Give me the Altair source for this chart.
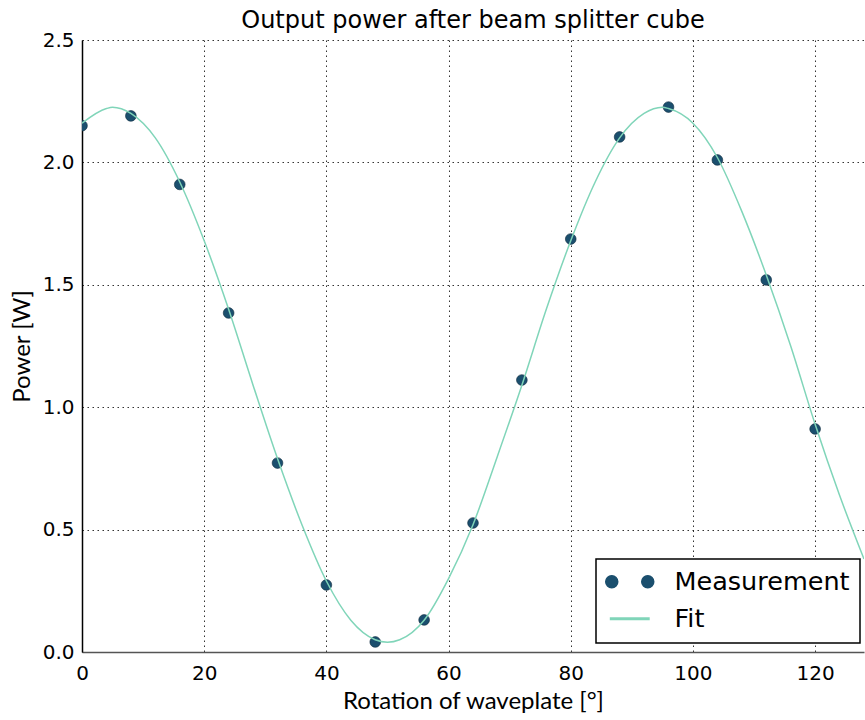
import altair as alt
import pandas as pd

# Measurements
angle = [0, 8, 16, 24, 32, 40, 48, 56, 64, 72, 80, 88, 96, 104, 112, 120]
power = [2.15, 2.19, 1.91, 1.385, 0.772, 0.274, 0.041, 0.131, 0.527, 1.111, 1.687, 2.104, 2.226, 2.010, 1.520, 0.911]

# Fit curve
fit_angle = [0, 4, 5, 8, 12, 16, 20, 24, 28, 32, 36, 40, 44, 48, 50, 52, 56, 60, 64, 68,
             72, 76, 80, 84, 88, 92, 95, 96, 100, 104, 108, 112, 116, 120, 124, 128]
fit_power = [2.16, 2.22, 2.225, 2.20, 2.10, 1.92, 1.68, 1.40, 1.09, 0.79, 0.52, 0.29, 0.13, 0.05, 0.04, 0.05,
             0.13, 0.30, 0.52, 0.80, 1.09, 1.40, 1.68, 1.92, 2.10, 2.20, 2.225, 2.22, 2.16, 2.02,
             1.80, 1.54, 1.25, 0.93, 0.64, 0.38]

x_ticks = [0, 20, 40, 60, 80, 100, 120]
y_ticks = [0.0, 0.5, 1.0, 1.5, 2.0, 2.5]

series_names = ["Measurement", "Fit"]
series_colors = ["#1b4f6e", "#80d5b9"]

meas = pd.DataFrame({"angle": angle, "power": power, "series": "Measurement"})
fit = pd.DataFrame({"angle": fit_angle, "power": fit_power, "series": "Fit"})
legend_rows = pd.DataFrame({"angle": angle[:2], "power": power[:2], "series": series_names})

xscale = alt.Scale(domain=[0, 128], nice=False, zero=False)
yscale = alt.Scale(domain=[0, 2.5], nice=False)
cscale = alt.Scale(domain=series_names, range=series_colors)

two_dots = ("M -4 0 A 1 1 0 1 0 -2 0 A 1 1 0 1 0 -4 0 Z "
            "M 2 0 A 1 1 0 1 0 4 0 A 1 1 0 1 0 2 0 Z")
seg = "M -3.2 -0.12 L 3.2 -0.12 L 3.2 0.12 L -3.2 0.12 Z"
sscale = alt.Scale(domain=series_names, range=[two_dots, seg])

legend = alt.Legend(
    title=None,
    orient="none",
    legendX=514,
    legendY=519,
    strokeColor="black",
    fillColor="white",
    padding=10,
    labelFontSize=25.5,
    labelFont="DejaVu Sans",
    labelColor="black",
    labelLimit=400,
    symbolOffset=11,
    labelOffset=32,
    rowPadding=10,
    symbolSize=144,
    symbolOpacity=1,
)

x_axis = alt.Axis(title="Rotation of waveplate [°]", values=x_ticks, format="d", labelFlush=False)
y_axis = alt.Axis(title="Power [W]", values=y_ticks, format=".1f", labelFlush=False)

legend_layer = alt.Chart(legend_rows).mark_point(filled=True, size=144, opacity=0).encode(
    x=alt.X("angle:Q", scale=xscale, axis=x_axis),
    y=alt.Y("power:Q", scale=yscale, axis=y_axis),
    color=alt.Color("series:N", scale=cscale, legend=legend),
    shape=alt.Shape("series:N", scale=sscale, legend=legend),
)

points = alt.Chart(meas).mark_point(
    filled=True, size=115, opacity=1, stroke="#0d2a3c", strokeWidth=0.6, clip=True
).encode(
    x=alt.X("angle:Q", scale=xscale),
    y=alt.Y("power:Q", scale=yscale),
    color=alt.Color("series:N", scale=cscale, legend=None),
)

line = alt.Chart(fit).mark_line(strokeWidth=1.5, interpolate="monotone", clip=True).encode(
    x=alt.X("angle:Q", scale=xscale),
    y=alt.Y("power:Q", scale=yscale),
    color=alt.Color("series:N", scale=cscale, legend=None),
)

chart = alt.layer(legend_layer, points, line).properties(
    width=782,
    height=612,
    title=alt.TitleParams("Output power after beam splitter cube", fontSize=24,
                          font="DejaVu Sans", fontWeight="normal", color="black",
                          offset=-3),
    padding={"left": 82, "top": 40, "right": 1, "bottom": 68},
    autosize=alt.AutoSizeParams(type="none"),
).configure_view(stroke=None).configure_legend(strokeWidth=1.5).configure_axis(
    labelFont="DejaVu Sans",
    titleFont="Lato",
    labelFontSize=20,
    titleFontSize=24,
    titleFontWeight="normal",
    labelColor="black",
    titleColor="black",
    grid=True,
    gridColor="black",
    gridDash=[1.5, 3.5],
    gridOpacity=0.8,
    gridWidth=1,
    ticks=False,
    domainColor="black",
    domainWidth=1.5,
).configure_axisX(titlePadding=6, labelPadding=11, domainColor="#555555").configure_axisY(
    titlePadding=8, labelPadding=8)

chart.save("out.html", embed_options={"renderer": "svg", "actions": False})
